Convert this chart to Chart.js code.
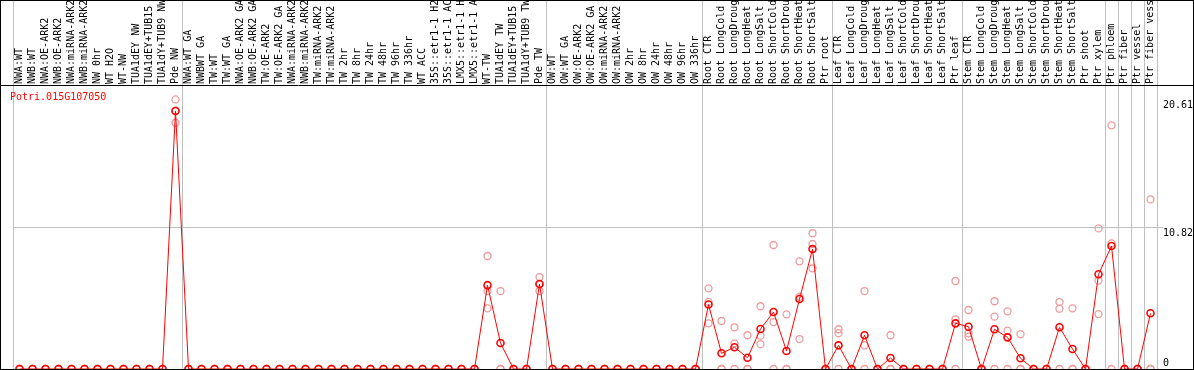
<!DOCTYPE html>
<html>
<head>
<meta charset="utf-8">
<script src="https://cdn.jsdelivr.net/npm/chart.js@4/dist/chart.umd.min.js"></script>
<style>
  body { margin: 0; background: #fff; }
  canvas { display: block; }
</style>
</head>
<body>
<canvas id="geneChart" width="1194" height="370"></canvas>
<script>
const geneName = 'Potri.015G107050';

const samples = [
  'NWA:WT', 'NWB:WT', 'NWA:OE-ARK2', 'NWB:OE-ARK2', 'NWA:miRNA-ARK2', 'NWB:miRNA-ARK2',
  'NW 0hr', 'WT H2O', 'WT-NW', 'TUA1dEY NW', 'TUA1dEY+TUB15 NW', 'TUA1dY+TUB9 NW', 'Pde NW',
  'NWA:WT GA', 'NWBWT GA', 'TW:WT', 'TW:WT GA', 'NWA:OE-ARK2 GA', 'NWB:OE-ARK2 GA',
  'TW:OE-ARK2', 'TW:OE-ARK2 GA', 'NWA:miRNA-ARK2', 'NWB:miRNA-ARK2', 'TW:miRNA-ARK2',
  'TW:miRNA-ARK2', 'TW 2hr', 'TW 8hr', 'TW 24hr', 'TW 48hr', 'TW 96hr', 'TW 336hr', 'WT ACC',
  '35S::etr1-1 H2O', '35S::etr1-1 ACC', 'LMX5::etr1-1 H2O', 'LMX5::etr1-1 ACC', 'WT-TW',
  'TUA1dEY TW', 'TUA1dEY+TUB15 TW', 'TUA1dY+TUB9 TW', 'Pde TW',
  'OW:WT', 'OW:WT GA', 'OW:OE-ARK2', 'OW:OE-ARK2 GA', 'OW:miRNA-ARK2', 'OW:miRNA-ARK2',
  'OW 2hr', 'OW 8hr', 'OW 24hr', 'OW 48hr', 'OW 96hr', 'OW 336hr',
  'Root CTR', 'Root LongCold', 'Root LongDrought', 'Root LongHeat', 'Root LongSalt',
  'Root ShortCold', 'Root ShortDrought', 'Root ShortHeat', 'Root ShortSalt', 'Ptr root',
  'Leaf CTR', 'Leaf LongCold', 'Leaf LongDrought', 'Leaf LongHeat', 'Leaf LongSalt',
  'Leaf ShortCold', 'Leaf ShortDrought', 'Leaf ShortHeat', 'Leaf ShortSalt', 'Ptr leaf',
  'Stem CTR', 'Stem LongCold', 'Stem LongDrought', 'Stem LongHeat', 'Stem LongSalt',
  'Stem ShortCold', 'Stem ShortDrought', 'Stem ShortHeat', 'Stem ShortSalt', 'Ptr shoot',
  'Ptr xylem', 'Ptr phloem', 'Ptr fiber', 'Ptr vessel', 'Ptr fiber vessel'
];

// mean expression (red line)
const meanExpr = [
  0, 0, 0, 0, 0, 0, 0, 0, 0, 0, 0, 0, 19.73,
  0, 0, 0, 0, 0, 0, 0, 0, 0, 0, 0, 0, 0, 0, 0, 0, 0, 0, 0, 0, 0, 0, 0, 6.41, 1.99, 0, 0, 6.50,
  0, 0, 0, 0, 0, 0, 0, 0, 0, 0, 0, 0,
  4.93, 1.20, 1.66, 0.86, 3.06, 4.36, 1.38, 5.35, 9.17, 0,
  1.81, 0, 2.58, 0, 0.84, 0, 0, 0, 0, 3.49,
  3.23, 0, 3.04, 2.42, 0.82, 0, 0, 3.19, 1.53, 0, 7.24,
  9.40, 0, 0, 4.26
];

// replicates (pink circles)
const repA = [
  0, 0, 0, 0, 0, 0, 0, 0, 0, 0, 0, 0, 20.61,
  0, 0, 0, 0, 0, 0, 0, 0, 0, 0, 0, 0, 0, 0, 0, 0, 0, 0, 0, 0, 0, 0, 0, 8.64, 5.96, 0, 0, 7.03,
  0, 0, 0, 0, 0, 0, 0, 0, 0, 0, 0, 0,
  6.17, 3.67, 3.19, 2.58, 4.80, 9.48, 4.18, 8.23, 10.38, 0,
  3.04, 0, 5.96, 0, 2.58, 0, 0, 0, 0, 6.73,
  4.51, 0, 5.18, 4.41, 2.66, 0, 0, 5.12, 4.64, 0, 10.75,
  18.63, 0, 0, 12.97
];
const repB = [
  0, 0, 0, 0, 0, 0, 0, 0, 0, 0, 0, 0, 19.75,
  0, 0, 0, 0, 0, 0, 0, 0, 0, 0, 0, 0, 0, 0, 0, 0, 0, 0, 0, 0, 0, 0, 0, 5.96, 0, 0, 0, 6.50,
  0, 0, 0, 0, 0, 0, 0, 0, 0, 0, 0, 0,
  5.13, 0, 1.96, 0, 2.55, 3.59, 0, 5.53, 9.56, 0,
  2.74, 0, 1.80, 0, 0, 0, 0, 0, 0, 3.80,
  2.73, 0, 4.00, 2.93, 0, 0, 0, 4.61, 0, 0, 6.76,
  9.61, 0, 0, 0
];
const repC = [
  0, 0, 0, 0, 0, 0, 0, 0, 0, 0, 0, 0, 18.83,
  0, 0, 0, 0, 0, 0, 0, 0, 0, 0, 0, 0, 0, 0, 0, 0, 0, 0, 0, 0, 0, 0, 0, 4.64, 0, 0, 0, 5.96,
  0, 0, 0, 0, 0, 0, 0, 0, 0, 0, 0, 0,
  3.49, 0, 0, 0, 1.90, 0, 0, 2.29, 7.70, 0,
  0, 0, 0, 0, 0, 0, 0, 0, 0, 0,
  2.48, 0, 0, 0, 0, 0, 0, 0, 0, 0, 4.20,
  0, 0, 0, 0
];

const yTicks = [0, 10.82, 20.61];
const yMax = 21.64;
// category boundaries where the grey separators sit
const groupEdges = [0, 13, 41, 53, 63, 73, 84, 85, 86, 87, 88];

const grey = '#c0c0c0';
const clear = 'rgba(0,0,0,0)';
const monoFont = { family: "'DejaVu Sans Mono', monospace", size: 10 };

const repStyle = {
  showLine: false,
  borderColor: '#ee9a9a',
  backgroundColor: clear,
  pointRadius: 3.5,
  pointBorderWidth: 1.3,
  pointHoverRadius: 3.5
};

const framePlugin = {
  id: 'frame',
  afterDraw(chart) {
    const { ctx, width, height, chartArea } = chart;
    ctx.save();
    ctx.strokeStyle = '#000';
    ctx.lineWidth = 1;
    ctx.strokeRect(0.5, 0.5, width - 1, height - 1);
    ctx.beginPath();
    ctx.moveTo(0, chartArea.top - 0.5);
    ctx.lineTo(width, chartArea.top - 0.5);
    ctx.stroke();

    ctx.font = "10px 'DejaVu Sans Mono', monospace";
    ctx.fillStyle = '#ff0000';
    ctx.textBaseline = 'middle';
    ctx.textAlign = 'left';
    ctx.fillText(geneName, 10, chartArea.top + 11);
    ctx.restore();
  }
};

new Chart(document.getElementById('geneChart'), {
  type: 'line',
  data: {
    labels: samples,
    datasets: [
      {
        label: geneName,
        data: meanExpr,
        borderColor: '#ff0000',
        borderWidth: 1,
        pointBorderColor: '#ff0000',
        pointBackgroundColor: clear,
        pointRadius: 3.5,
        pointBorderWidth: 1.6,
        tension: 0
      },
      { label: 'rep A', data: repA, ...repStyle },
      { label: 'rep B', data: repB, ...repStyle },
      { label: 'rep C', data: repC, ...repStyle }
    ]
  },
  options: {
    responsive: false,
    animation: false,
    devicePixelRatio: 1,
    layout: { autoPadding: false, padding: { left: 13, bottom: 1 } },
    plugins: {
      legend: { display: false },
      tooltip: { enabled: false }
    },
    scales: {
      x: {
        position: 'top',
        offset: true,
        grid: {
          offset: true,
          tickLength: 86,
          color: c => (c.type !== 'tick' || groupEdges.includes(c.index)) ? grey : clear
        },
        border: { display: false },
        ticks: {
          autoSkip: false,
          minRotation: 90,
          maxRotation: 90,
          padding: -84,
          labelOffset: 12,
          color: '#000',
          font: monoFont
        },
        afterFit: s => { s.height = 86; }
      },
      y: {
        position: 'right',
        min: 0,
        max: yMax,
        afterBuildTicks: s => { s.ticks = yTicks.map(v => ({ value: v })); },
        afterFit: s => {
          s.width = 37;
          s.paddingTop = 0;
          s.paddingBottom = 0;
        },
        grid: {
          tickLength: 6,
          color: c => (c.tick && c.tick.value === yTicks[1]) ? grey : clear
        },
        border: { display: false },
        ticks: {
          padding: 0,
          color: '#000',
          font: monoFont,
          callback: v => v === 0 ? ['0', ''] : ['', String(v)]
        }
      }
    }
  },
  plugins: [framePlugin]
});
</script>
</body>
</html>
